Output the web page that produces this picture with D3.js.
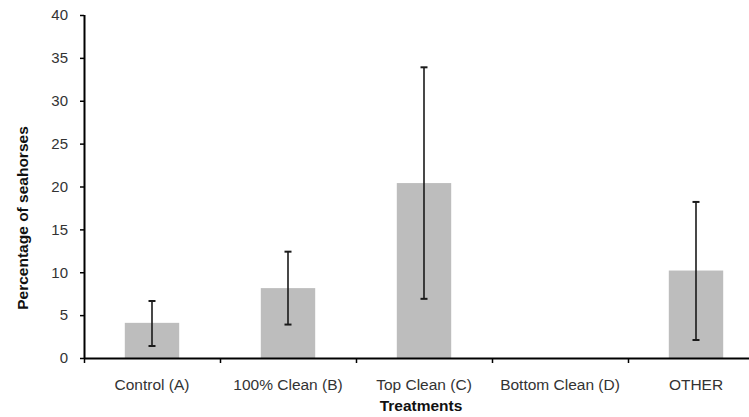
<!DOCTYPE html>
<html><head><meta charset="utf-8">
<script src="https://cdn.jsdelivr.net/npm/d3@7/dist/d3.min.js"></script>
<style>body{margin:0;background:#fff;} svg{display:block;font-family:"Liberation Sans",Arial,sans-serif;}</style>
</head><body>
<svg id="c" width="749" height="417"></svg>
<script>
const categories = ["Control (A)", "100% Clean (B)", "Top Clean (C)", "Bottom Clean (D)", "OTHER"];
const means = [4.1, 8.15, 20.4, 0, 10.2];
const errLow = [1.4, 3.9, 6.9, null, 2.1];
const errHigh = [6.65, 12.4, 33.9, null, 18.2];
const yTicks = [0, 5, 10, 15, 20, 25, 30, 35, 40];

const svg = d3.select("#c");
const mLeft = 84, mRight = 764, mTop = 15, mBottom = 358;
const xOuter = d3.scaleBand().domain(categories).range([mLeft, mRight]);
const y = d3.scaleLinear().domain([0, 40]).range([mBottom, mTop]);

// bars
svg.append("g").selectAll("rect").data(categories).join("rect")
  .attr("x", d => xOuter(d) + xOuter.bandwidth()/2 - xOuter.bandwidth()*0.2)
  .attr("width", xOuter.bandwidth()*0.4)
  .attr("y", (d,i) => y(means[i]))
  .attr("height", (d,i) => y(0) - y(means[i]))
  .attr("fill", "#bdbdbd");

// error bars
const eg = svg.append("g").attr("stroke", "#1a1a1a").attr("stroke-width", 1.6);
categories.forEach((c,i) => {
  if (errLow[i] == null) return;
  const cx = xOuter(c) + xOuter.bandwidth()/2;
  eg.append("line").attr("x1", cx).attr("x2", cx).attr("y1", y(errLow[i])).attr("y2", y(errHigh[i]));
  [errLow[i], errHigh[i]].forEach(v => {
    eg.append("line").attr("x1", cx-3.5).attr("x2", cx+3.5).attr("y1", y(v)).attr("y2", y(v)).attr("stroke-width", 2);
  });
});

// y axis
const ya = svg.append("g").attr("transform", `translate(${mLeft},0)`)
  .call(d3.axisLeft(y).tickValues(yTicks).tickSize(4).tickPadding(12).tickSizeOuter(0));
ya.select(".domain").attr("stroke", "#000").attr("stroke-width", 2).attr("d", `M0.5,${mTop}V${mBottom+1}`);
ya.selectAll(".tick line").attr("stroke", "#000").attr("stroke-width", 1.5);
ya.selectAll(".tick text").attr("font-size", 15).attr("fill", "#333").attr("font-family", "Liberation Sans, Arial, sans-serif");

// x axis
const xa = svg.append("g").attr("transform", `translate(0,${mBottom})`)
  .call(d3.axisBottom(xOuter).tickSize(0).tickPadding(21).tickSizeOuter(0));
xa.select(".domain").attr("stroke", "#000").attr("stroke-width", 2);
xa.selectAll(".tick text").attr("font-size", 15.5).attr("fill", "#333").attr("font-family", "Liberation Sans, Arial, sans-serif");
// category boundary ticks
const bounds = categories.map(c => xOuter(c)).concat([mRight]);
svg.append("g").selectAll("line").data(bounds).join("line")
  .attr("x1", d => d + 0.5).attr("x2", d => d + 0.5)
  .attr("y1", mBottom).attr("y2", mBottom + 5)
  .attr("stroke", "#000").attr("stroke-width", 1.5);

// titles
svg.append("text").attr("x", 421).attr("y", 411).attr("text-anchor", "middle")
  .attr("font-size", 15.5).attr("font-weight", "bold").attr("fill", "#111").text("Treatments");
svg.append("text").attr("transform", `translate(28,218) rotate(-90)`).attr("text-anchor", "middle")
  .attr("font-size", 15.5).attr("font-weight", "bold").attr("fill", "#111").text("Percentage of seahorses");
</script>
</body></html>
